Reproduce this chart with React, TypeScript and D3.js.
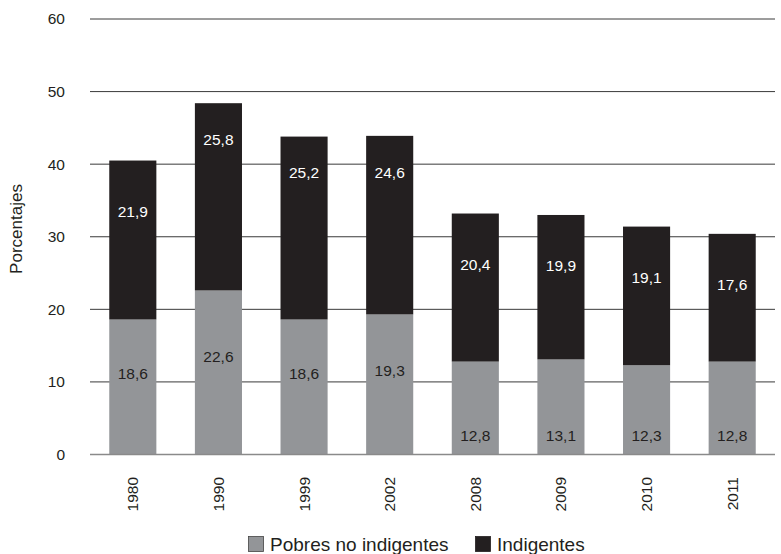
import React from "react";
import * as d3 from "d3";

const years = ["1980", "1990", "1999", "2002", "2008", "2009", "2010", "2011"];
const pobresNoIndigentes = [18.6, 22.6, 18.6, 19.3, 12.8, 13.1, 12.3, 12.8];
const indigentes = [21.9, 25.8, 25.2, 24.6, 20.4, 19.9, 19.1, 17.6];
const yTicks = [0, 10, 20, 30, 40, 50, 60];
const seriesNames = ["Pobres no indigentes", "Indigentes"];
const colors = ["#939598", "#231f20"];

const W = 781;
const H = 554;
const FONT = "'Liberation Sans', Arial, Helvetica, sans-serif";

export default function App() {
  const x = d3.scaleBand<string>().domain(years).range([90, 775]).paddingInner(0.45).paddingOuter(0.225);
  const y = d3.scaleLinear().domain([0, 60]).range([454.5, 19]);
  const fmt = (v: number) => v.toFixed(1).replace(".", ",");

  return (
    <svg width={W} height={H} style={{ position: "absolute", left: 0, top: 0, background: "#fff" }} fontFamily={FONT}>
      {yTicks.map((t) => (
        <g key={t}>
          {t > 0 && <line x1={90} x2={775} y1={y(t)} y2={y(t)} stroke="#3a3a3a" strokeWidth={1} />}
          <text x={65} y={y(t)} dy="0.35em" textAnchor="end" fontSize={15.5} fill="#231f20">{t}</text>
        </g>
      ))}
      {years.map((yr, i) => {
        const g = pobresNoIndigentes[i];
        const b = indigentes[i];
        const x0 = x(yr)!;
        const bw = x.bandwidth();
        const cx = x0 + bw / 2;
        const greyLabelV = g < 15 ? 2.6 : g * 0.6;
        const blackLabelV = g + b - (b > 22 ? 5 : 7);
        return (
          <g key={yr}>
            <rect x={x0} y={y(g)} width={bw} height={y(0) - y(g)} fill={colors[0]} />
            <rect x={x0} y={y(g + b)} width={bw} height={y(g) - y(g + b)} fill={colors[1]} />
            <text x={cx} y={y(greyLabelV)} dy="0.35em" textAnchor="middle" fontSize={15.5} fill="#231f20">{fmt(g)}</text>
            <text x={cx} y={y(blackLabelV)} dy="0.35em" textAnchor="middle" fontSize={15.5} fill="#ffffff">{fmt(b)}</text>
            <text transform={`translate(${cx},477) rotate(-90)`} dy="0.35em" textAnchor="end" fontSize={15.5} fill="#231f20">{yr}</text>
          </g>
        );
      })}
      <line x1={90} x2={775} y1={y(0)} y2={y(0)} stroke="#8a8a8a" strokeWidth={1.5} />
      <text transform={`translate(16,229) rotate(-90)`} dy="0.35em" textAnchor="middle" fontSize={17} fill="#231f20">Porcentajes</text>
      <g>
        <rect x={248.5} y={536.5} width={15} height={15} fill={colors[0]} stroke="#444" strokeWidth={0.8} />
        <text x={270} y={544} dy="0.35em" fontSize={19} fill="#231f20">{seriesNames[0]}</text>
        <rect x={475.5} y={536.5} width={15} height={15} fill={colors[1]} stroke="#231f20" strokeWidth={0.8} />
        <text x={497} y={544} dy="0.35em" fontSize={19} fill="#231f20">{seriesNames[1]}</text>
      </g>
    </svg>
  );
}
